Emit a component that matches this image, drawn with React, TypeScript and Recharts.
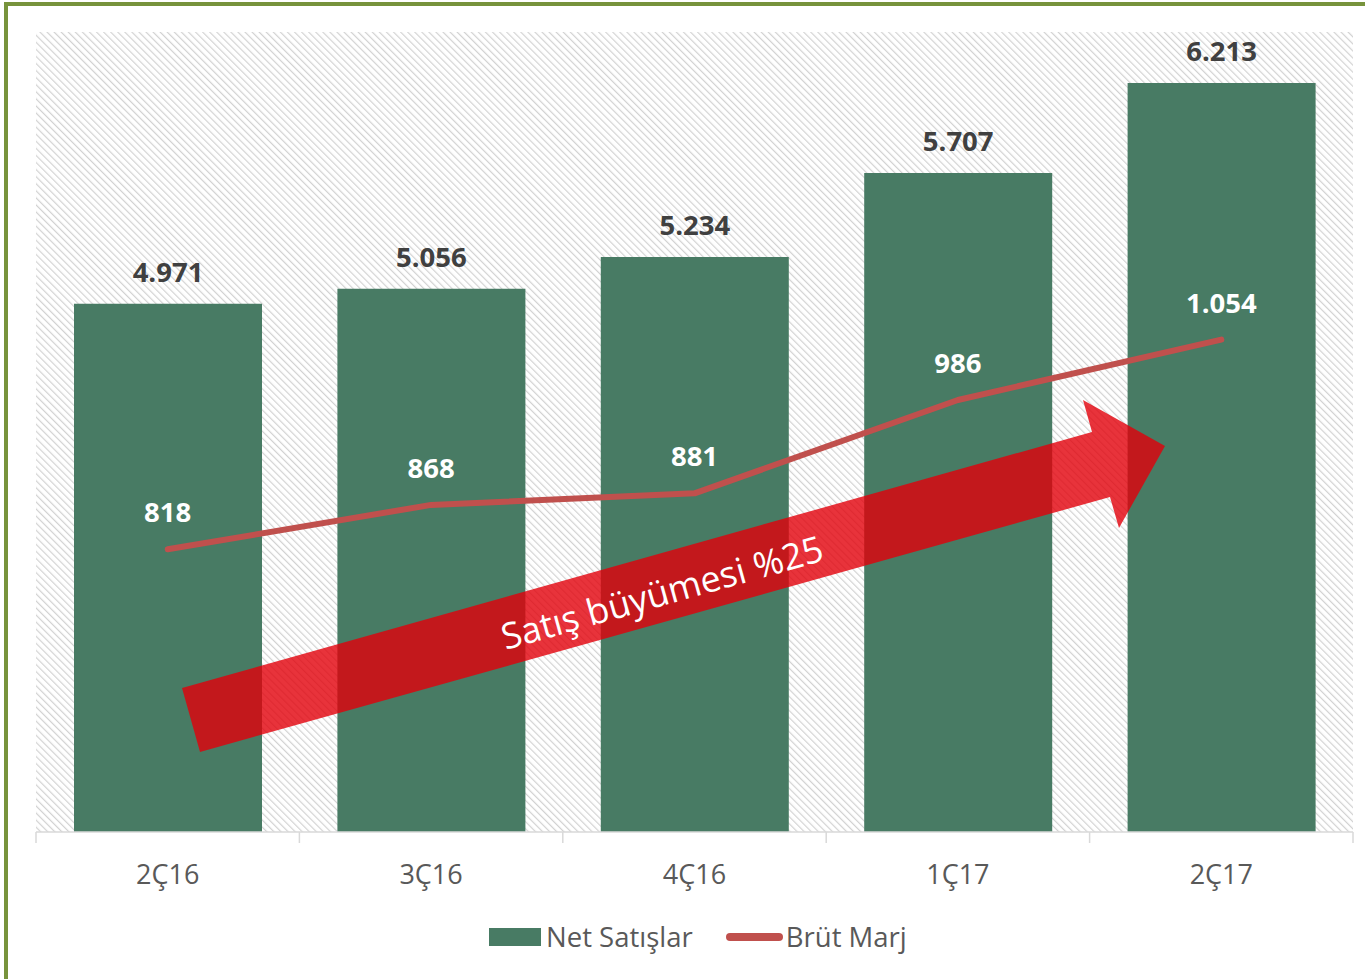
import React from 'react';
import { ComposedChart, Bar, Line, XAxis, YAxis, CartesianGrid, LabelList } from 'recharts';

// data
const quarters = ['2Ç16', '3Ç16', '4Ç16', '1Ç17', '2Ç17'];
const netSales = [4971, 5056, 5234, 5707, 6213];
const grossMargin = [818, 868, 881, 986, 1054];
const salesDomain = [2000, 6500];
const marginDomain = [500, 1400];
const growthText = 'Satış büyümesi %25';

const W = 1365;
const H = 979;
const MARGIN = { top: 32, right: 12, left: 36, bottom: 107 };
const BAND = (W - MARGIN.left - MARGIN.right) / quarters.length;

const FONT = '"Open Sans", "Noto Sans", sans-serif';
const GREEN = '#487B64';
const RED_LINE = '#C0504D';

const chartData = quarters.map((q, i) => ({
    quarter: q,
    sales: netSales[i],
    margin: grossMargin[i],
}));

// Turkish style thousands separator
const fmt = (v: any) => String(v).replace(/\B(?=(\d{3})+(?!\d))/g, '.');

const QuarterTick = (props: any) => {
    const { x, y, payload, index } = props;
    const left = x - BAND / 2;
    const right = x + BAND / 2;
    return (
        <g>
            <line x1={left} y1={y} x2={left} y2={y + 11} stroke="#D9D9D9" strokeWidth={1.5} />
            {index === quarters.length - 1 && (
                <line x1={right} y1={y} x2={right} y2={y + 11} stroke="#D9D9D9" strokeWidth={1.5} />
            )}
            <text x={x} y={y + 52} textAnchor="middle" fill="#595959" fontSize={27} fontFamily={FONT}>
                {payload.value}
            </text>
        </g>
    );
};

export default function App() {
    return (
        <div style={{ position: 'absolute', left: 0, top: 0, width: W, height: H, overflow: 'hidden', background: '#fff', fontFamily: FONT }}>
            {/* outer frame, right/bottom edges run off the picture */}
            <div style={{ position: 'absolute', left: 4, top: 2, width: W + 60, height: H + 60, border: '4px solid #77933C', boxSizing: 'border-box' }} />

            <div style={{ position: 'absolute', left: 0, top: 0 }}>
                <ComposedChart width={W} height={H} data={chartData} margin={MARGIN} barSize={188}>
                    <defs>
                        <pattern id="hatch" patternUnits="userSpaceOnUse" width={5} height={5} patternTransform="rotate(-45)">
                            <rect width={5} height={5} fill="#FFFFFF" />
                            <line x1={0} y1={0} x2={0} y2={5} stroke="#D2D2D2" strokeWidth={2.4} />
                        </pattern>
                    </defs>
                    <CartesianGrid horizontal={false} vertical={false} fill="url(#hatch)" fillOpacity={1} />
                    <XAxis
                        dataKey="quarter"
                        height={40}
                        tickLine={false}
                        tickSize={0}
                        tickMargin={0}
                        axisLine={{ stroke: '#D9D9D9', strokeWidth: 1.5 }}
                        tick={<QuarterTick />}
                        interval={0}
                    />
                    <YAxis yAxisId="sales" domain={salesDomain} hide />
                    <YAxis yAxisId="margin" orientation="right" domain={marginDomain} hide />
                    <Bar yAxisId="sales" dataKey="sales" name="Net Satışlar" fill={GREEN} isAnimationActive={false}>
                        <LabelList dataKey="sales" position="top" offset={22} formatter={fmt}
                            fill="#404040" fontSize={27.5} fontWeight={700} fontFamily={FONT} />
                    </Bar>
                    <Line yAxisId="margin" type="linear" dataKey="margin" name="Brüt Marj" stroke={RED_LINE}
                        strokeWidth={6} strokeLinecap="round" strokeLinejoin="round" dot={false} activeDot={false}
                        isAnimationActive={false}>
                        <LabelList dataKey="margin" position="top" offset={27} formatter={fmt}
                            fill="#FFFFFF" fontSize={27.5} fontWeight={700} fontFamily={FONT} />
                    </Line>
                </ComposedChart>
            </div>

            {/* growth arrow annotation */}
            <svg width={W} height={H} style={{ position: 'absolute', left: 0, top: 0, pointerEvents: 'none' }}>
                <polygon
                    points="182,688 1092,432 1083,400 1165,446 1119,528 1110,497 200,752"
                    fill="rgb(226,0,10)"
                    fillOpacity={0.8}
                />
                <text
                    x={662}
                    y={592}
                    textAnchor="middle"
                    dominantBaseline="central"
                    transform="rotate(-15.7 662 592)"
                    fill="#FFFFFF"
                    fontSize={36}
                    fontFamily={FONT}
                >
                    {growthText}
                </text>
            </svg>

            {/* legend */}
            <div style={{ position: 'absolute', left: 489, top: 918, display: 'flex', alignItems: 'center', color: '#595959', fontSize: 27.5, lineHeight: '38px' }}>
                <span style={{ display: 'inline-block', width: 52, height: 18, background: GREEN, marginRight: 5 }} />
                <span>Net Satışlar</span>
                <span style={{ display: 'inline-block', width: 57, height: 8, borderRadius: 4, background: RED_LINE, marginLeft: 33, marginRight: 3 }} />
                <span>Brüt Marj</span>
            </div>
        </div>
    );
}
